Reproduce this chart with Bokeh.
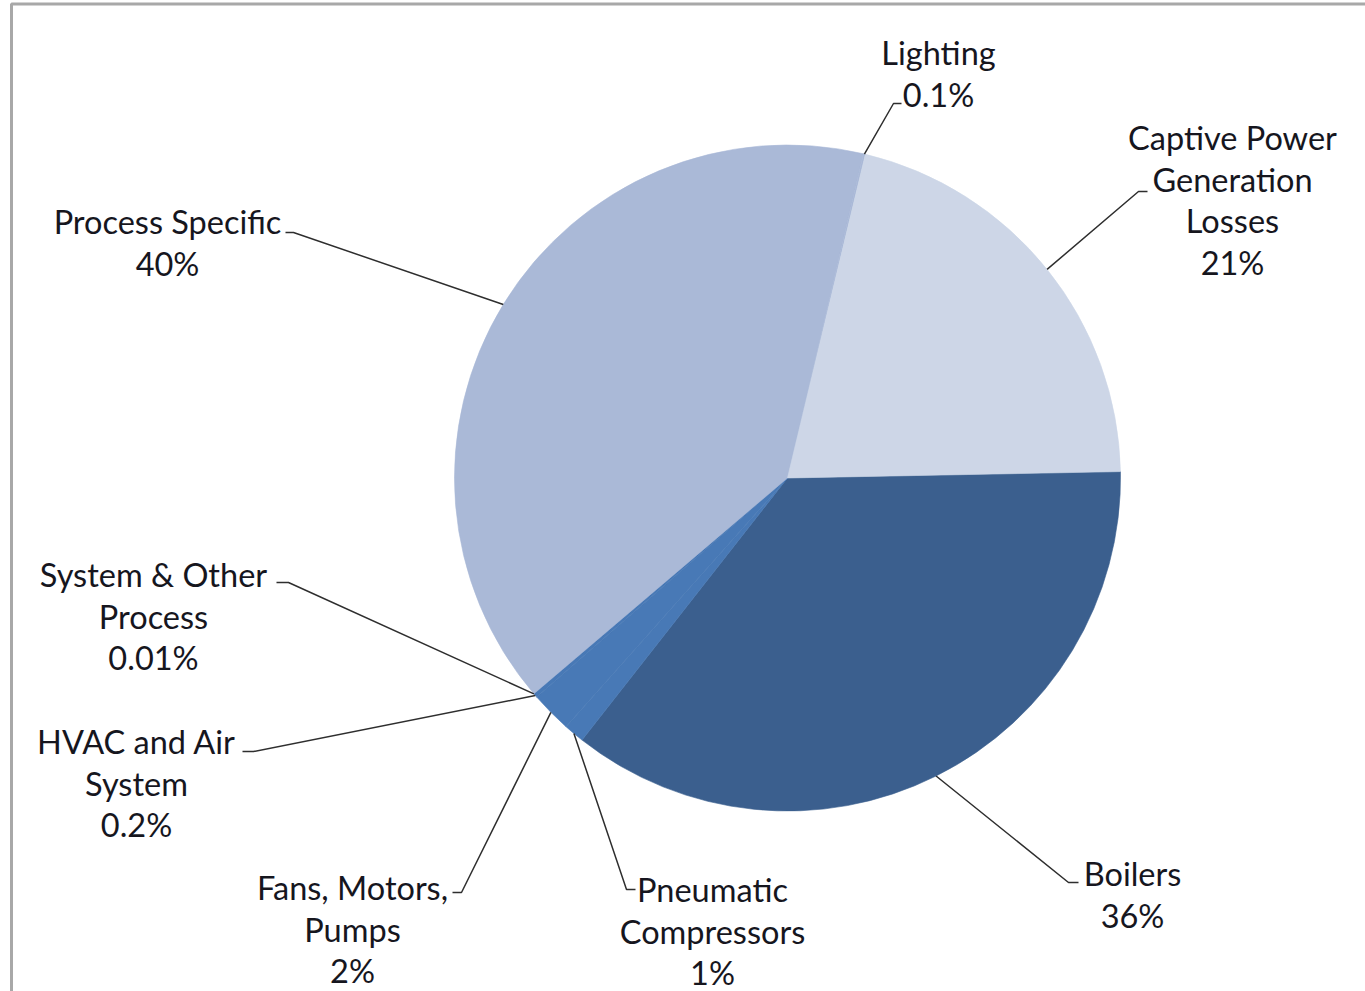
import math
from bokeh.plotting import figure
from bokeh.models import Range1d, BoxAnnotation, ColumnDataSource
from bokeh.core.properties import value
from bokeh.embed import file_html
from bokeh.resources import INLINE

# Share of energy use by end use, listed clockwise from 3 o'clock
categories = ["Boilers", "Pneumatic Compressors", "Fans, Motors, Pumps",
              "HVAC and Air System", "System & Other Process",
              "Process Specific", "Lighting", "Captive Power Generation Losses"]
shares = [36, 1, 2, 0.2, 0.01, 40, 0.1, 21]
share_labels = ["36%", "1%", "2%", "0.2%", "0.01%", "40%", "0.1%", "21%"]
label_lines = [["Boilers"], ["Pneumatic", "Compressors"], ["Fans, Motors,", "Pumps"],
               ["HVAC and Air", "System"], ["System & Other", "Process"],
               ["Process Specific"], ["Lighting"], ["Captive Power", "Generation", "Losses"]]

colors = ["#3B5F8E", "#4879B6", "#4879B6", "#4879B6", "#4879B6",
          "#AAB9D7", "#AAB9D7", "#CDD6E7"]

W, H = 1365, 991
CX, CY, R = 787, H - 477.5, 333
START_DEG = 1.1

# Label layout: (leader elbow x, elbow y, tail end x, center x of text, top line y), page pixels
label_layout = [
    (1068, 882, 1078, 1132, 873),
    (626, 889, 635, 712, 889),
    (461, 892, 452, 352, 887),
    (253, 751, 242, 136, 741),
    (288, 582, 276, 153, 574),
    (293, 232, 285, 167, 221),
    (893, 103, 901, 938, 52),
    (1138, 191, 1147, 1232, 137),
]
LINE_STEP = 41.5

p = figure(width=W, height=H, output_backend="svg", toolbar_location=None,
           x_range=Range1d(0, W), y_range=Range1d(0, H), min_border=0,
           outline_line_color=None)
p.axis.visible = False
p.grid.visible = False

total = sum(shares)
starts, ends, mids = [], [], []
a = math.radians(START_DEG)
for s in shares:
    sweep = 2 * math.pi * s / total
    starts.append(a - sweep)
    ends.append(a)
    mids.append(a - sweep / 2)
    a -= sweep

src = ColumnDataSource(dict(start=starts, end=ends, color=colors))
p.wedge(x=CX, y=CY, radius=R, start_angle="start", end_angle="end",
        fill_color="color", line_color="color", line_width=0.6, source=src)

# Leader lines from slice mid-angle on the rim to the label
xs, ys = [], []
for m, (ex, ey, tx, _, _) in zip(mids, label_layout):
    px = CX + R * math.cos(m)
    py = CY + R * math.sin(m)
    xs.append([px, ex, tx])
    ys.append([py, H - ey, H - ey])
p.multi_line(xs=xs, ys=ys, line_color="#2e2e2e", line_width=1.5)

# Labels, one text row per line
tx_, ty_, tt_ = [], [], []
for lines, pct, (_, _, _, cx, top) in zip(label_lines, share_labels, label_layout):
    for i, t in enumerate(lines + [pct]):
        tx_.append(cx)
        ty_.append(H - (top + i * LINE_STEP))
        tt_.append(t)
p.text(x=tx_, y=ty_, text=tt_, text_align="center", text_baseline="middle",
       text_font=value("Lato"), text_font_size="32.5px", text_color="#16161e")

# Frame edge along the top and left
p.add_layout(BoxAnnotation(left=11, right=W + 20, bottom=-20, top=H - 3.5,
                           fill_alpha=0, line_color="#a8a8a8", line_alpha=1.0,
                           line_width=3))

open("out.html", "w").write(file_html(p, INLINE))
